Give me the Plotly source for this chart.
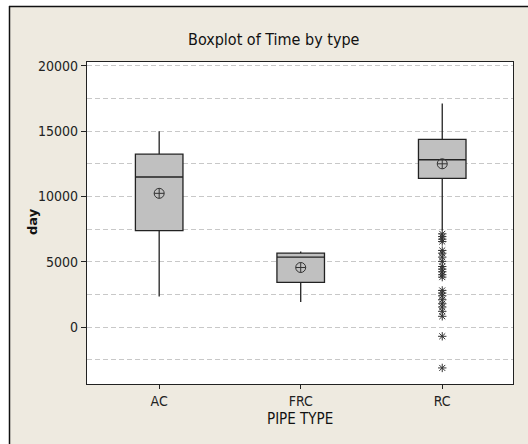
import plotly.graph_objects as go

# ---- data ----
categories = ["AC", "FRC", "RC"]
q1 = [7390, 3420, 11390]
median = [11490, 5360, 12810]
q3 = [13240, 5660, 14370]
lower_whisker = [2350, 1920, 7400]
upper_whisker = [15000, 5790, 17110]
means = [10240, 4565, 12500]

rc_outliers = [7140, 6930, 6730, 6550, 5870, 5660, 5360, 5030, 4640, 4440,
               4240, 4010, 3830, 2810, 2610, 2400, 2100, 1790, 1540, 1210,
               830, -700, -3120]

y_tickvals = [0, 5000, 10000, 15000, 20000]
y_ticktext = ["0", "5000", "10000", "15000", "20000"]

# ---- layout constants ----
W, H = 528, 444
ML, MR, MT, MB = 87, 15, 62, 60
PW, PH = W - ML - MR, H - MT - MB
BG = "#EEEAE0"
FONT = "DejaVu Sans Condensed, Liberation Sans Narrow, Liberation Sans, sans-serif"


def fx(px):
    return (px - ML) / PW


def fy(py):
    return (H - MB - py) / PH


fig = go.Figure()

fig.add_trace(go.Box(
    x=categories,
    q1=q1, median=median, q3=q3,
    lowerfence=lower_whisker, upperfence=upper_whisker,
    fillcolor="#C0C0C0",
    line=dict(color="#222222", width=1.3),
    whiskerwidth=0,
    width=0.336,
    boxpoints=False,
    showlegend=False,
    hoverinfo="skip",
))

fig.add_trace(go.Scatter(
    x=categories, y=means, mode="markers",
    marker=dict(symbol="circle-cross-open", size=10,
                color="#333333", line=dict(width=1, color="#333333")),
    showlegend=False,
))

fig.add_trace(go.Scatter(
    x=["RC"] * len(rc_outliers), y=rc_outliers, mode="markers",
    marker=dict(symbol="asterisk-open", size=7,
                line=dict(width=1, color="#333333"), color="#333333"),
    showlegend=False,
))

shapes = [
    dict(type="rect", xref="paper", yref="paper", x0=fx(-5), x1=fx(9),
         y0=fy(H + 5), y1=fy(-5), fillcolor="white", line=dict(width=0), layer="below"),
    dict(type="rect", xref="paper", yref="paper", x0=fx(-5), x1=fx(W + 5),
         y0=fy(6), y1=fy(-5), fillcolor="white", line=dict(width=0), layer="below"),
    dict(type="line", xref="paper", yref="paper", x0=fx(9.5), x1=fx(9.5),
         y0=fy(6), y1=fy(H + 5), line=dict(color="#111111", width=1.5)),
    dict(type="line", xref="paper", yref="paper", x0=fx(9), x1=fx(W + 5),
         y0=fy(6.5), y1=fy(6.5), line=dict(color="#111111", width=1.5)),
]

annotations = [
    dict(text="Boxplot of Time by type", xref="paper", yref="paper",
         x=fx(274), y=fy(40), xanchor="center", yanchor="middle", showarrow=False,
         font=dict(family=FONT, size=16, color="#111111")),
    dict(text="<b>day</b>", xref="paper", yref="paper", x=fx(32), y=fy(222),
         xanchor="center", yanchor="middle", textangle=-90, showarrow=False,
         font=dict(family="DejaVu Sans", size=13, color="#111111")),
    dict(text="PIPE TYPE", xref="paper", yref="paper", x=fx(300), y=fy(419),
         xanchor="center", yanchor="middle", showarrow=False,
         font=dict(family=FONT, size=15, color="#111111")),
]

fig.update_layout(
    width=W, height=H,
    margin=dict(l=ML, r=MR, t=MT, b=MB, pad=0),
    paper_bgcolor=BG, plot_bgcolor="white",
    font=dict(family=FONT, size=14, color="#222222"),
    shapes=shapes,
    annotations=annotations,
    xaxis=dict(
        type="category", categoryorder="array", categoryarray=categories,
        range=[-0.51, 2.5],
        showline=True, linecolor="#222222", linewidth=1.3, mirror=True,
        ticks="outside", ticklen=4, tickcolor="#222222",
        showgrid=False, zeroline=False,
        tickfont=dict(size=14, color="#222222"),
    ),
    yaxis=dict(
        range=[-4350, 20290],
        tickvals=y_tickvals, ticktext=y_ticktext,
        showline=True, linecolor="#222222", linewidth=1.3, mirror=True,
        ticks="outside", ticklen=5, tickcolor="#222222",
        showgrid=True, gridcolor="#C8C8C8", griddash="5px,3px", gridwidth=1,
        minor=dict(dtick=2500, tick0=0, showgrid=True, gridcolor="#C8C8C8",
                   griddash="5px,3px", gridwidth=1, ticks=""),
        zeroline=False,
        tickfont=dict(size=14, color="#222222"),
    ),
)

fig.write_html(
    "out.html",
    post_script="document.documentElement.style.overflow='hidden';"
                "document.body.style.overflow='hidden';document.body.style.margin='0';",
)
